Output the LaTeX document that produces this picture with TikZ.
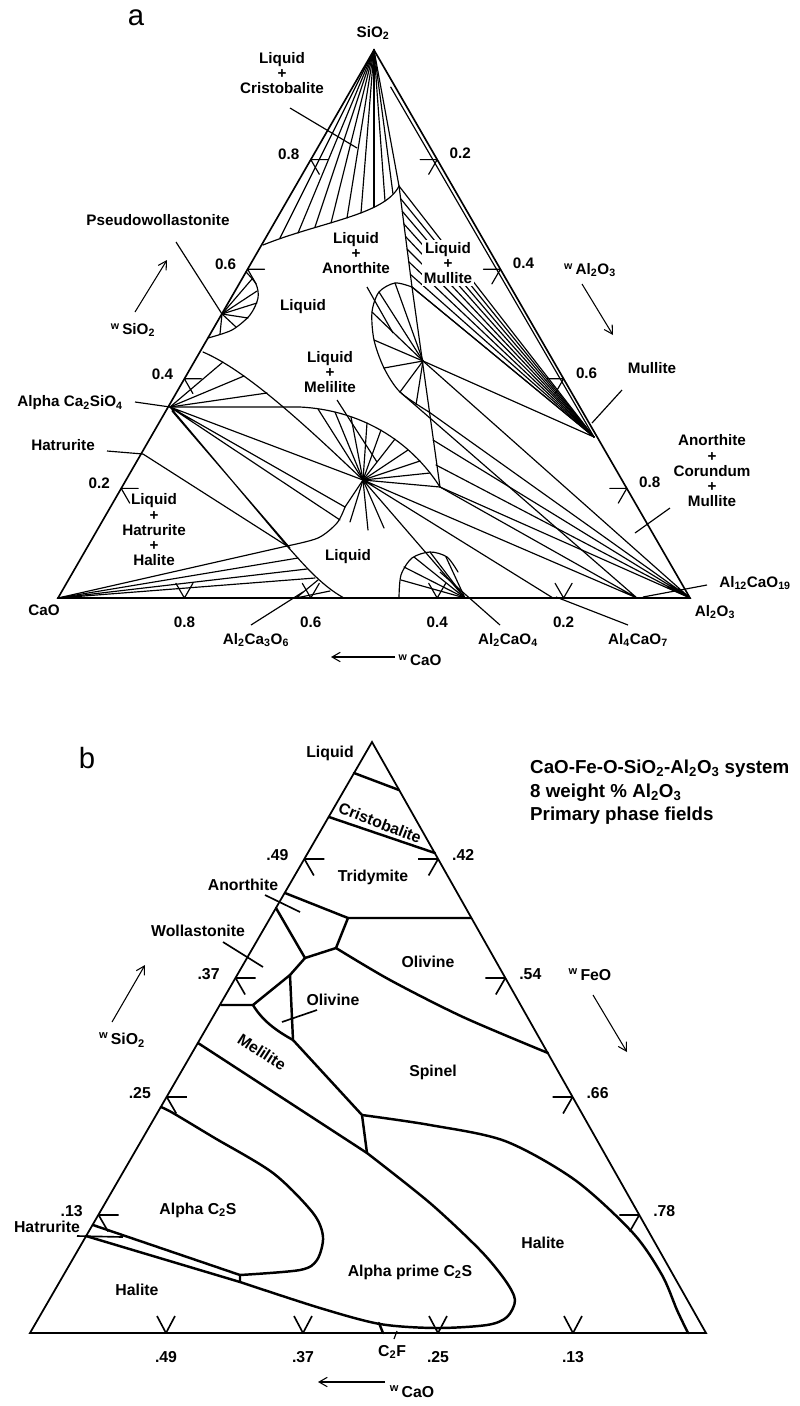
\documentclass[tikz,border=0pt]{standalone}
\usepackage{fontspec}
\setmainfont{Liberation Sans}
\usetikzlibrary{arrows.meta,calc}

\begin{document}
\begin{tikzpicture}[x=0.3mm, y=-0.3mm,
  side/.style={line width=1.4pt, line join=miter},
  tie/.style={line width=1pt, line cap=round},
  bnd/.style={line width=2.1pt, line join=round, line cap=round},
  lead/.style={line width=1pt},
  lab/.style={font=\fontsize{13}{13}\selectfont\bfseries, inner sep=0pt, align=center},
  labb/.style={font=\fontsize{13.5}{14}\selectfont\bfseries, inner sep=0pt, align=center},
  arr/.style={-{Straight Barb[length=7pt, width=8pt]}, line width=0.9pt}]
\path[use as bounding box] (0,0) rectangle (800,1406);

% ---------------- a: CaO - Al2O3 - SiO2 ----------------
\node[font=\fontsize{25}{25}\selectfont] (pa) at (136,18) {a};
\coordinate (CaO) at (58,598);
\coordinate (SiO2) at (374,50);
\coordinate (Al2O3) at (690,598);
\coordinate (mul) at (594,437);
\coordinate (an) at (423,361);
\coordinate (geh) at (363,480);
\coordinate (c2s) at (170,407);
\coordinate (hat) at (143,454);
\coordinate (pw) at (222,314);
\coordinate (c3a) at (296,598);
\coordinate (ca) at (465,598);
\coordinate (ca2) at (553,598);
\coordinate (ca6) at (637,598);
\coordinate (eu) at (399,186);
\coordinate (mj) at (412,287);
\coordinate (lb) at (429,412);
\coordinate (gj) at (440,487);
\coordinate (lq) at (287,546);

\draw[side] (CaO) -- (SiO2) -- (Al2O3) -- cycle;

% ticks
\foreach \s in {0.2,0.4,0.6,0.8} {
  \draw[tie] ({58+316*\s},{598-548*\s}) -- ++(17,0) ({58+316*\s},{598-548*\s}) -- ++(8.5,14.7);
  \node[lab] at ({58+316*\s-22},{598-548*\s-5}) {\s};
  \draw[tie] ({374+316*\s},{50+548*\s}) -- ++(-17,0) ({374+316*\s},{50+548*\s}) -- ++(-8.5,14.7);
  \node[lab] at ({374+316*\s+23},{50+548*\s-6}) {\s};
  \draw[tie] ({690-632*\s},598) -- ++(-8.5,-14.7) ({690-632*\s},598) -- ++(8.5,-14.7);
  \node[lab] at ({690-632*\s},622) {\s};
}

% cristobalite
\draw[tie] (263,245) .. controls (320,222) and (385,215) .. (eu);
\draw[tie] (SiO2) -- (eu);
\foreach \x/\y in {280/238, 298/233, 315/227, 331/223, 347/218, 361/213, 374/207, 385/201, 393/194}
  \draw[tie] (SiO2) -- (\x,\y);

% mullite
\draw[tie] (eu) -- (mj);
\draw[tie] (390.7,87) -- (mul);
\foreach \k in {0,...,8}
  \draw[tie] (mul) -- ($(eu)!\k/8!(mj)$);

% anorthite
\draw[tie] plot[smooth] coordinates {(412,287) (395,283) (379,292) (372,312) (374,340) (384,368) (400,392) (lb)};
\draw[tie] (mj) -- (gj);
\foreach \x/\y in {395/283, 379/292, 372/312, 374/340, 384/368, 400/392, 416/405}
  \draw[tie] (an) -- (\x,\y);
\draw[tie] (mj) -- (mul) (an) -- (mul);
\draw[tie] (an) -- (Al2O3) (lb) -- (Al2O3) (433,440) -- (Al2O3) (436,465) -- (Al2O3) (gj) -- (Al2O3);
\draw[tie] (gj) -- (ca6) (geh) -- (ca6) (geh) -- (ca2) (geh) -- (ca) (geh) -- (gj) (400,392) -- (ca6);

% pseudowollastonite
\draw[tie] plot[smooth] coordinates {(246,272) (256,284) (258,298) (250,315) (232,330) (208,338)};
\foreach \x/\y in {252/279, 257/291, 257/303, 248/318, 236/327, 220/334}
  \draw[tie] (pw) -- (\x,\y);

% melilite
\draw[tie] (c2s) -- (300,407) .. controls (360,410) and (410,440) .. (gj);
\foreach \x/\y in {318/409, 335/412, 351/417, 367/423, 381/430, 395/439, 408/450, 420/461, 430/473}
  \draw[tie] (geh) -- (\x,\y);
\draw[tie] (203,352) .. controls (245,370) and (300,420) .. (geh);
\foreach \x/\y in {223/362, 244/376, 267/393}
  \draw[tie] (c2s) -- (\x,\y);
\draw[tie] (c2s) -- (geh) (c2s) -- (345,507) (c2s) -- (340,520) (c2s) -- (lq) (172,411) -- (290,548);

% lower liquid
\draw[tie] plot[smooth] coordinates {(lq) (318,538) (337,523) (345,507)};
\draw[tie] (lq) .. controls (300,560) and (320,585) .. (344,598);
\foreach \x/\y in {345/507, 350/522, 368/530, 384/528}
  \draw[tie] (geh) -- (\x,\y);
\draw[tie] (hat) -- (lq);
\foreach \x/\y in {287/546, 298/558, 307/569, 315/578}
  \draw[tie] (CaO) -- (\x,\y);
\draw[tie] (c3a) -- (318,580) (c3a) -- (330,591);
\draw[tie] plot[smooth] coordinates {(399,598) (401,575) (412,558) (430,552) (447,557) (458,572)};
\foreach \x/\y in {401/580, 404/567, 414/557, 430/552, 446/557}
  \draw[tie] (ca) -- (\x,\y);

% labels a
\node[lab] (lsio) at (373,33) {SiO\textsubscript{2}};
\node[lab] (lcao) at (44,610) {CaO};
\node[lab] (lalo) at (715,612) {Al\textsubscript{2}O\textsubscript{3}};
\node[lab] (lcris) at (282,73) {Liquid\\+\\Cristobalite};
\draw[lead] (290,108) -- (357,148);
\node[lab] (lpw) at (158,220) {Pseudowollastonite};
\draw[lead] (176,242) -- (pw);
\node[lab] (lliq) at (303,307) {Liquid};
\node[lab] (lanl) at (356,253) {Liquid\\+\\Anorthite};
\draw[lead] (367,287) -- (393,333);
\node[lab, fill=white, inner sep=2pt] (lmul) at (448,263) {Liquid\\+\\Mullite};
\node[lab] (lmull) at (652,368) {Mullite};
\draw[lead] (622,390) -- (592,423);
\node[lab] (lacm) at (712,471) {Anorthite\\+\\Corundum\\+\\Mullite};
\draw[lead] (670,508) -- (635,533);
\node[lab] (lmel) at (330,372) {Liquid\\+\\Melilite};
\draw[lead] (337,400) -- (377,462);
\node[lab] (lc2s) at (70,403) {Alpha Ca\textsubscript{2}SiO\textsubscript{4}};
\draw[lead] (135,402) -- (c2s);
\node[lab] (lhat) at (63,445) {Hatrurite};
\draw[lead] (107,451) -- (hat);
\node[lab] (lhh) at (154,530) {Liquid\\+\\Hatrurite\\+\\Halite};
\node[lab] (lliq2) at (348,557) {Liquid};
\node[lab] (lc3a) at (256,640) {Al\textsubscript{2}Ca\textsubscript{3}O\textsubscript{6}};
\draw[lead] (251,625) -- (303,592);
\node[lab] (lca) at (508,640) {Al\textsubscript{2}CaO\textsubscript{4}};
\draw[lead] (500,625) -- (440,572);
\node[lab] (lca2) at (638,640) {Al\textsubscript{4}CaO\textsubscript{7}};
\draw[lead] (628,625) -- (556,597);
\node[lab] (lca6) at (755,583) {Al\textsubscript{12}CaO\textsubscript{19}};
\draw[lead] (707,585) -- (643,597);
\node[lab] (wsa) at (133,330) {\textsuperscript{w}\,SiO\textsubscript{2}};
\draw[arr] (135,312) -- (167,260);
\node[lab] (waa) at (590,270) {\textsuperscript{w}\,Al\textsubscript{2}O\textsubscript{3}};
\draw[arr] (582,284) -- (613,335);
\node[lab] (wca) at (420,660) {\textsuperscript{w}\,CaO};
\draw[arr] (395,657) -- (331,657);

% ---------------- b: primary phase fields ----------------
\node[font=\fontsize{25}{25}\selectfont] (pb) at (87,758) {b};
\coordinate (tb) at (372,742);
\coordinate (bl) at (30,1333);
\coordinate (br) at (706,1333);
\draw[side, line width=1.5pt] (tb) -- (bl) -- (br) -- cycle;

\foreach \y/\l/\r in {859/.49/.42, 978/.37/.54, 1097/.25/.66, 1215/.13/.78} {
  \draw[side] ({372-0.578*(\y-742)},\y) -- ++(20,0) ({372-0.578*(\y-742)},\y) -- ++(9.5,16.5);
  \node[labb] at ({372-0.578*(\y-742)-27},{\y-4}) {\l};
  \draw[side] ({372+0.565*(\y-742)},\y) -- ++(-20,0) ({372+0.565*(\y-742)},\y) -- ++(-9.5,16.5);
  \node[labb] at ({372+0.565*(\y-742)+25},{\y-4}) {\r};
}
\foreach \x/\l in {166/.49, 303/.37, 438/.25, 573/.13} {
  \draw[side] (\x,1333) -- ++(-9,-17) (\x,1333) -- ++(9,-17);
  \node[labb] at (\x,1357) {\l};
}

\draw[bnd] (354,773) -- (399,790);
\draw[bnd] (329,817) -- (435,853);
\draw[bnd] (285,893) -- (348,918) -- (471,918);
\draw[bnd] (276,908) -- (305,958) -- (336,948) -- (348,918);
\draw[bnd] (305,958) -- (290,975) -- (253,1005) -- (221,1005);
\draw[bnd] (290,975) -- (293,1040);
\draw[bnd] (253,1005) .. controls (262,1020) and (275,1030) .. (293,1040);
\draw[bnd] plot[smooth] coordinates {(336,948) (390,980) (463,1017) (548,1053)};
\draw[bnd] (293,1040) -- (362,1115) -- (367,1153);
\draw[bnd] plot[smooth] coordinates {(362,1115) (430,1125) (505,1141) (575,1180) (633,1233) (662,1275) (677,1310) (688,1333)};
\draw[bnd] (198,1043) -- (367,1153);
\draw[bnd] plot[smooth] coordinates {(367,1153) (430,1203) (480,1250) (505,1280) (515,1300) (507,1317) (487,1325) (436,1328) (380,1324) (320,1308) (240,1282)} -- (86,1236);
\draw[bnd] plot[smooth] coordinates {(161,1107) (173,1113) (213,1137) (273,1173) (313,1213) (323,1237) (317,1260) (300,1270) (240,1275)};
\draw[bnd] (93,1225) -- (240,1275) -- (240,1282);
\draw[bnd] (379,1323) -- (383,1333);
\draw[lead] (397,1331) -- (394,1339);

\node[labb] (bliq) at (330,753) {Liquid};
\node[labb, rotate=-21] (bcris) at (380,823) {Cristobalite};
\node[labb] (btri) at (373,877) {Tridymite};
\node[labb] (bano) at (243,885) {Anorthite};
\draw[lead, line width=1.4pt] (265,895) -- (300,912);
\node[labb] (bwol) at (198,931) {Wollastonite};
\draw[lead, line width=1.4pt] (223,942) -- (263,967);
\node[labb] (boli) at (428,962) {Olivine};
\node[labb] (boli2) at (333,1000) {Olivine};
\draw[lead, line width=1.4pt] (317,1010) -- (282,1022);
\node[labb, rotate=-33] (bmel) at (262,1052) {Melilite};
\node[labb] (bspi) at (433,1072) {Spinel};
\node[labb] (bac) at (198,1210) {Alpha C\textsubscript{2}S};
\node[labb] (bapc) at (410,1272) {Alpha prime C\textsubscript{2}S};
\node[labb] (bhal) at (543,1243) {Halite};
\node[labb] (bhal2) at (137,1290) {Halite};
\node[labb] (bhat) at (47,1227) {Hatrurite};
\draw[lead, line width=1.4pt] (77,1236) -- (123,1237);
\node[labb] (bc2f) at (392,1352) {C\textsubscript{2}F};
\node[font=\fontsize{16}{20}\selectfont\bfseries, align=left, anchor=north west, inner sep=0pt] (btitle) at (530,760)
  {CaO-Fe-O-SiO\textsubscript{2}-Al\textsubscript{2}O\textsubscript{3} system\\8 weight \% Al\textsubscript{2}O\textsubscript{3}\\Primary phase fields};
\node[labb] (wsb) at (122,1040) {\textsuperscript{w}\,SiO\textsubscript{2}};
\draw[arr] (112,1022) -- (145,965);
\node[labb] (wfb) at (590,975) {\textsuperscript{w}\,FeO};
\draw[arr] (593,995) -- (627,1052);
\node[labb] (wcb) at (412,1392) {\textsuperscript{w}\,CaO};
\draw[arr] (385,1382) -- (318,1382);
\end{tikzpicture}
\end{document}
